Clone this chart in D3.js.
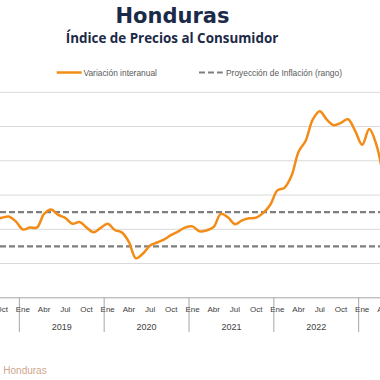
<!DOCTYPE html>
<html>
    <head>
        <script src="https://cdnjs.cloudflare.com/ajax/libs/d3/7.8.5/d3.min.js"></script>
        <title>Honduras IPC</title>
        <style>
            html, body {
                margin: 0;
                background-color: white;
            }
            .svg_canvas {
                display: block;
            }
        </style>
    </head>
    <body>
        <svg height="380" width="380" class="svg_canvas"></svg>

        <script>
            var monthNames = ["Ene","Feb","Mar","Abr","May","Jun","Jul","Ago","Sep","Oct","Nov","Dic"];
            var years = [2018, 2019, 2020, 2021, 2022, 2023];

            // variacion interanual, Sep 2018 .. Abr 2023
            var firstPeriod = "2018-8";
            var inflation = [
                4.6, 4.67, 4.75, 4.46,
                3.99, 4.10, 4.11, 4.90, 5.16, 4.84, 4.67, 4.32, 4.43, 4.11, 3.83, 4.08,
                4.32, 3.96, 3.82, 3.26, 2.31, 2.59, 3.06, 3.23, 3.41, 3.67, 3.88, 4.11,
                4.17, 3.88, 3.94, 4.14, 4.90, 4.70, 4.30, 4.52, 4.64, 4.68, 4.96, 5.43,
                6.27, 6.42, 7.12, 8.53, 9.17, 10.40, 10.89, 10.40, 10.08, 10.22, 10.43, 9.75,
                8.94, 9.85, 8.94, 7.0
            ];
            var targetRange = [3, 5];
            var yTicks = [2, 4, 6, 8, 10, 12];

            var periods = [];
            years.forEach(function(y){
                monthNames.forEach(function(m, i){ periods.push(y + "-" + i); });
            });

            var startIndex = periods.indexOf(firstPeriod);
            var series = inflation.map(function(v, i){
                return {period: periods[startIndex + i], value: v};
            });

            var svg = d3.select(".svg_canvas");

            var x = d3.scaleBand()
                .domain(periods)
                .range([-65.5, 443.5])
                .padding(0);

            var y = d3.scaleLinear()
                .domain([0, 12])
                .range([297.8, 92.3]);

            var textFont = "'Liberation Sans', Arial, sans-serif";

            // only labels that reach into the visible window
            function visible(cx) { return cx > -4 && cx < 388; }

            // titles
            svg.append("text")
                .attr("x", 172.5).attr("y", 23)
                .attr("text-anchor", "middle")
                .style("font-family", "'DejaVu Sans', sans-serif")
                .style("font-weight", "bold")
                .style("font-size", "21px")
                .style("fill", "#1b2a47")
                .text("Honduras");

            svg.append("text")
                .attr("x", 172).attr("y", 42.5)
                .attr("text-anchor", "middle")
                .style("font-family", "'Open Sans', sans-serif")
                .style("font-weight", "bold")
                .style("font-size", "13.4px")
                .style("fill", "#1b2a47")
                .text("Índice de Precios al Consumidor");

            // gridlines
            svg.append("g")
                .selectAll("line")
                .data(yTicks)
                .enter()
                .append("line")
                .attr("x1", 0).attr("x2", 380)
                .attr("y1", function(d){ return y(d); })
                .attr("y2", function(d){ return y(d); })
                .style("stroke", "#d9d9d9")
                .style("stroke-width", 1);

            // target range
            svg.append("g")
                .selectAll("line")
                .data(targetRange)
                .enter()
                .append("line")
                .attr("x1", 0).attr("x2", 380)
                .attr("y1", function(d){ return y(d); })
                .attr("y2", function(d){ return y(d); })
                .style("stroke", "#7f7f7f")
                .style("stroke-width", 2.2)
                .style("stroke-dasharray", "6,3");

            // x axis
            svg.append("line")
                .attr("x1", 0).attr("x2", 380)
                .attr("y1", y(0)).attr("y2", y(0))
                .style("stroke", "#a6a6a6")
                .style("stroke-width", 1);

            var bounds = years.map(function(yr){ return x(yr + "-0"); });
            svg.append("g")
                .selectAll("line")
                .data(bounds)
                .enter()
                .append("line")
                .attr("x1", function(d){ return d; })
                .attr("x2", function(d){ return d; })
                .attr("y1", y(0)).attr("y2", 332)
                .style("stroke", "#a6a6a6")
                .style("stroke-width", 1);

            var quarterPeriods = periods.filter(function(p){
                return +p.split("-")[1] % 3 === 0 && visible(x(p) + x.bandwidth() / 2);
            });
            svg.append("g")
                .selectAll("text")
                .data(quarterPeriods)
                .enter()
                .append("text")
                .attr("x", function(d){ return x(d) + x.bandwidth() / 2; })
                .attr("y", 312)
                .attr("text-anchor", "middle")
                .style("font-family", textFont)
                .style("font-size", "8px")
                .style("fill", "#404040")
                .text(function(d){ return monthNames[+d.split("-")[1]]; });

            var shownYears = years.filter(function(d){
                return visible(x(d + "-0") + 6 * x.bandwidth());
            });
            svg.append("g")
                .selectAll("text")
                .data(shownYears)
                .enter()
                .append("text")
                .attr("x", function(d){ return x(d + "-0") + 6 * x.bandwidth(); })
                .attr("y", 330)
                .attr("text-anchor", "middle")
                .style("font-family", textFont)
                .style("font-size", "9px")
                .style("fill", "#404040")
                .text(function(d){ return d; });

            // inflation line
            var line = d3.line()
                .x(function(d){ return x(d.period) + x.bandwidth() / 2; })
                .y(function(d){ return y(d.value); })
                .curve(d3.curveCatmullRom.alpha(0.5));

            svg.append("path")
                .datum(series)
                .attr("d", line)
                .style("fill", "none")
                .style("stroke", "#f28c16")
                .style("stroke-width", 2.5)
                .style("stroke-linejoin", "round");

            // legend
            var legend = svg.append("g");
            legend.append("line")
                .attr("x1", 56.7).attr("x2", 81.7)
                .attr("y1", 72.5).attr("y2", 72.5)
                .style("stroke", "#f28c16")
                .style("stroke-width", 2.5);
            legend.append("text")
                .attr("x", 83.5).attr("y", 75.5)
                .style("font-family", textFont)
                .style("font-size", "8.4px")
                .style("fill", "#595959")
                .text("Variación interanual");
            legend.append("line")
                .attr("x1", 199).attr("x2", 222.7)
                .attr("y1", 72.5).attr("y2", 72.5)
                .style("stroke", "#7f7f7f")
                .style("stroke-width", 2.2)
                .style("stroke-dasharray", "6,3");
            legend.append("text")
                .attr("x", 226).attr("y", 75.5)
                .style("font-family", textFont)
                .style("font-size", "8.4px")
                .style("fill", "#595959")
                .text("Proyección de Inflación (rango)");

            // source
            svg.append("text")
                .attr("x", 3.3).attr("y", 374)
                .style("font-family", textFont)
                .style("font-size", "10px")
                .style("fill", "#cfa58c")
                .text("Honduras");
        </script>
    </body>
</html>
